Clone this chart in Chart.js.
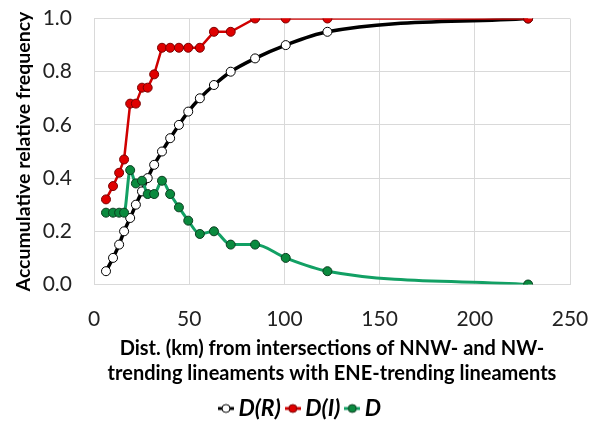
<!DOCTYPE html>
<html>
<head>
<meta charset="utf-8">
<script src="https://cdn.jsdelivr.net/npm/chart.js"></script>
<style>
  html, body { margin: 0; padding: 0; background: #fff; }
  #wrap { width: 600px; height: 425px; }
</style>
</head>
<body>
<div id="wrap"><canvas id="chart" width="600" height="425"></canvas></div>
<script>
// distance from the lineament intersections (km)
const distKm = [6.3, 10, 13.2, 15.8, 19, 22, 25.2, 28.2, 31.6, 35.7, 40, 44.6, 49.5, 55.6, 63, 71.8, 84.6, 100.7, 122.6, 228];

// accumulative relative frequency of random points, D(R)
const dR = [0.05, 0.10, 0.15, 0.20, 0.25, 0.30, 0.35, 0.40, 0.45, 0.50, 0.55, 0.60, 0.65, 0.70, 0.75, 0.80, 0.85, 0.90, 0.95, 1.0];
// accumulative relative frequency of deposits, D(I)
const dI = [0.32, 0.37, 0.42, 0.47, 0.68, 0.68, 0.74, 0.74, 0.79, 0.89, 0.89, 0.89, 0.89, 0.89, 0.95, 0.95, 1.0, 1.0, 1.0, 1.0];
// difference D = D(I) - D(R)
const dDiff = [0.27, 0.27, 0.27, 0.27, 0.43, 0.38, 0.39, 0.34, 0.34, 0.39, 0.34, 0.29, 0.24, 0.19, 0.20, 0.15, 0.15, 0.10, 0.05, 0.0];

const xTicks = [0, 50, 100, 150, 200, 250];
const yTicks = [0.0, 0.2, 0.4, 0.6, 0.8, 1.0];

const FONT = "Lato, 'Open Sans', sans-serif";

function toPoints(ys) {
  return ys.map((y, i) => ({ x: distKm[i], y }));
}

// small line-with-dot marker for the legend
function legendMarker(lineColor, fill, stroke) {
  const c = document.createElement("canvas");
  c.width = 16;
  c.height = 12;
  const ctx = c.getContext("2d");
  ctx.strokeStyle = lineColor;
  ctx.lineWidth = 3;
  ctx.beginPath();
  ctx.moveTo(0, 6);
  ctx.lineTo(16, 6);
  ctx.stroke();
  ctx.beginPath();
  ctx.arc(8, 6, 4, 0, Math.PI * 2);
  ctx.fillStyle = fill;
  ctx.fill();
  ctx.lineWidth = 1;
  ctx.strokeStyle = stroke;
  ctx.stroke();
  return c;
}

const markers = {
  "D(R)": legendMarker("#000000", "#ffffff", "#000000"),
  "D(I)": legendMarker("#d00000", "#e00000", "#7a0000"),
  "D": legendMarker("#12a064", "#0a8a3e", "#0b3d20"),
};

// nudge the legend row to the right so it sits under the middle of the page
const legendShift = {
  id: "legendShift",
  afterLayout(chart) {
    chart.legend.left += 18;
    chart.legend.right += 18;
  },
};

// D is listed first so it is drawn on top; legend shows them reversed
const datasets = [
  {
    label: "D",
    data: toPoints(dDiff),
    borderColor: "#12a064",
    borderWidth: 3,
    backgroundColor: "#0a8a3e",
    pointBackgroundColor: "#0a8a3e",
    pointBorderColor: "#0b3d20",
    pointBorderWidth: 1,
    pointRadius: 4.5,
    cubicInterpolationMode: "monotone",
  },
  {
    label: "D(I)",
    data: toPoints(dI),
    borderColor: "#d00000",
    borderWidth: 2.5,
    backgroundColor: "#e00000",
    pointBackgroundColor: "#e00000",
    pointBorderColor: "#7a0000",
    pointBorderWidth: 1,
    pointRadius: 4.5,
    tension: 0,
  },
  {
    label: "D(R)",
    data: toPoints(dR),
    borderColor: "#000000",
    borderWidth: 3.5,
    backgroundColor: "#ffffff",
    pointBackgroundColor: "#ffffff",
    pointBorderColor: "#000000",
    pointBorderWidth: 1,
    pointRadius: 4.5,
    cubicInterpolationMode: "monotone",
  },
];

new Chart(document.getElementById("chart"), {
  type: "line",
  data: { datasets },
  plugins: [legendShift],
  options: {
    responsive: false,
    animation: false,
    layout: { padding: { top: 18.5, right: 30, left: 0, bottom: -5 } },
    plugins: {
      tooltip: { enabled: false },
      legend: {
        position: "bottom",
        reverse: true,
        labels: {
          usePointStyle: true,
          pointStyleWidth: 2,
          boxHeight: 12,
          padding: 11,
          color: "#000",
          font: { family: FONT, size: 23, weight: "bold", style: "italic", lineHeight: 1.0 },
          generateLabels(chart) {
            const items = Chart.defaults.plugins.legend.labels.generateLabels(chart);
            items.forEach((it) => { it.pointStyle = markers[it.text]; });
            return items;
          },
        },
      },
    },
    scales: {
      x: {
        type: "linear",
        min: 0,
        max: 250,
        afterBuildTicks(scale) { scale.ticks = xTicks.map((v) => ({ value: v })); },
        afterFit(scale) {
          scale.height = 101.5;
          scale.paddingLeft = 0;
          scale.paddingRight = 0;
        },
        grid: { color: "#d9d9d9", lineWidth: 1, drawTicks: false },
        border: { display: false },
        ticks: {
          padding: 22,
          color: "#222",
          font: { family: FONT, size: 21 },
        },
        title: {
          display: true,
          text: ["Dist. (km) from intersections of NNW- and NW-", "trending lineaments with ENE-trending lineaments"],
          color: "#000",
          padding: { top: 0, bottom: 0 },
          font: { family: FONT, size: 20, weight: "bold", lineHeight: 1.25 },
        },
      },
      y: {
        type: "linear",
        min: 0,
        max: 1,
        afterBuildTicks(scale) { scale.ticks = yTicks.map((v) => ({ value: v })); },
        afterFit(scale) {
          scale.width = 94;
          scale.paddingTop = 0;
          scale.paddingBottom = 0;
        },
        grid: { color: "#d9d9d9", lineWidth: 1, drawTicks: false },
        border: { display: false },
        ticks: {
          padding: 22,
          color: "#222",
          font: { family: FONT, size: 21 },
          callback: (v) => v.toFixed(1),
        },
        title: {
          display: true,
          text: "Accumulative relative frequency",
          color: "#000",
          padding: { top: 12, bottom: 2 },
          font: { family: FONT, size: 19.5, weight: "bold" },
        },
      },
    },
  },
});
</script>
</body>
</html>
